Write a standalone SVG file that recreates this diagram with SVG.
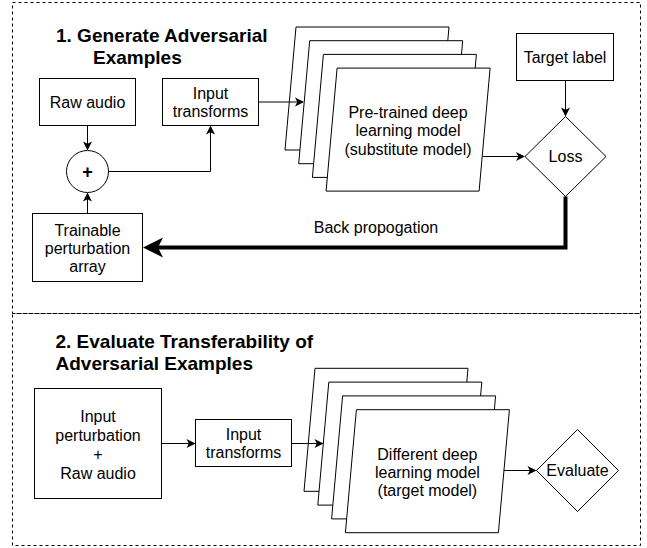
<svg xmlns="http://www.w3.org/2000/svg" xmlns:xlink="http://www.w3.org/1999/xlink" width="647" height="548" viewBox="0 0 647 548">
  <style>
    .frame { fill: none; stroke: #000; stroke-width: 1; stroke-dasharray: 3 3; }
    .box { fill: #fff; stroke: #000; stroke-width: 1; }
    .edge { fill: none; stroke: #000; stroke-width: 1; }
    .thick { fill: none; stroke: #000; stroke-width: 4; }
    text { font-family: "Liberation Sans", Arial, Helvetica, sans-serif; fill: #000; }
    .lbl { font-size: 16px; text-anchor: middle; }
    .title { font-size: 19px; font-weight: bold; }
    .plus { font-size: 18px; font-weight: bold; text-anchor: middle; }
  </style>
  <defs>
    <!-- one layer of a model stack: slanted card -->
    <polygon id="layer" points="11,0 164,0 153,123 0,123" class="box"/>
    <marker id="arrow" markerUnits="userSpaceOnUse" orient="auto" overflow="visible" refX="3" refY="0">
      <path d="M0,-4.5 L9,0 L0,4.5 L2.3,0 Z" fill="#000"/>
    </marker>
    <marker id="arrowBig" markerUnits="userSpaceOnUse" orient="auto" overflow="visible" refX="10" refY="0">
      <path d="M0,-10 L20,0 L0,10 L5,0 Z" fill="#000"/>
    </marker>
  </defs>

  <!-- section frames -->
  <g id="section-generate">
    <rect class="frame" x="12.5" y="2.5" width="628" height="311"/>
    <text class="title" x="56" y="42">1. Generate Adversarial</text>
    <text class="title" x="93" y="64">Examples</text>
  </g>
  <g id="section-evaluate">
    <rect class="frame" x="12.5" y="313.5" width="628" height="232"/>
    <text class="title" x="55.5" y="347.5">2. Evaluate Transferability of</text>
    <text class="title" x="55.5" y="369.5">Adversarial Examples</text>
  </g>

  <!-- section 1 nodes -->
  <g id="raw-audio">
    <rect class="box" x="39.5" y="78.5" width="96" height="47"/>
    <text class="lbl" x="87.5" y="107.5">Raw audio</text>
  </g>
  <g id="sum">
    <circle class="box" cx="87.5" cy="171.5" r="21"/>
    <text class="plus" x="87.5" y="178">+</text>
  </g>
  <g id="perturbation">
    <rect class="box" x="32.5" y="213.5" width="110" height="68"/>
    <text class="lbl" x="87.5" y="235.7">Trainable</text>
    <text class="lbl" x="87.5" y="254">perturbation</text>
    <text class="lbl" x="87.5" y="272.3">array</text>
  </g>
  <g id="input-transforms-1">
    <rect class="box" x="162.5" y="78.5" width="96" height="47"/>
    <text class="lbl" x="210.5" y="98.5">Input</text>
    <text class="lbl" x="210.5" y="116.9">transforms</text>
  </g>
  <g id="substitute-model">
    <use xlink:href="#layer" x="285" y="27"/>
    <use xlink:href="#layer" x="298.7" y="40.7"/>
    <use xlink:href="#layer" x="312.4" y="54.4"/>
    <use xlink:href="#layer" x="326.1" y="68.1"/>
    <text class="lbl" x="408" y="118">Pre-trained deep</text>
    <text class="lbl" x="408" y="136.4">learning model</text>
    <text class="lbl" x="408" y="154.8">(substitute model)</text>
  </g>
  <g id="target-label">
    <rect class="box" x="516.5" y="33.5" width="97" height="47"/>
    <text class="lbl" x="565" y="62.5">Target label</text>
  </g>
  <g id="loss">
    <polygon class="box" points="565.5,116.5 606,156.5 565.5,196.5 525,156.5"/>
    <text class="lbl" x="565.5" y="162">Loss</text>
  </g>

  <!-- section 2 nodes -->
  <g id="perturbed-audio">
    <rect class="box" x="34.5" y="388.5" width="127" height="110"/>
    <text class="lbl" x="98" y="421.7">Input</text>
    <text class="lbl" x="98" y="440.7">perturbation</text>
    <text class="lbl" x="98" y="459.7">+</text>
    <text class="lbl" x="98" y="478.7">Raw audio</text>
  </g>
  <g id="input-transforms-2">
    <rect class="box" x="195.5" y="419.5" width="96" height="47"/>
    <text class="lbl" x="243.5" y="439.5">Input</text>
    <text class="lbl" x="243.5" y="457.9">transforms</text>
  </g>
  <g id="target-model">
    <use xlink:href="#layer" x="304" y="368.3"/>
    <use xlink:href="#layer" x="317.8" y="382.1"/>
    <use xlink:href="#layer" x="331.6" y="395.9"/>
    <use xlink:href="#layer" x="345.4" y="409.7"/>
    <text class="lbl" x="427.4" y="459.6">Different deep</text>
    <text class="lbl" x="427.4" y="478">learning model</text>
    <text class="lbl" x="427.4" y="496.4">(target model)</text>
  </g>
  <g id="evaluate">
    <polygon class="box" points="577.5,429.5 618.5,470.5 577.5,511.5 536.5,470.5"/>
    <text class="lbl" x="577.5" y="476">Evaluate</text>
  </g>

  <!-- connectors -->
  <g id="connectors">
    <path class="edge" d="M87.5,125.5 V144.5" marker-end="url(#arrow)"/>
    <path class="edge" d="M87.5,213.5 V198.5" marker-end="url(#arrow)"/>
    <path class="edge" d="M108.5,171.5 H210.5 V131.5" marker-end="url(#arrow)"/>
    <path class="edge" d="M258.5,102 H298" marker-end="url(#arrow)"/>
    <path class="edge" d="M565.5,80.5 V110.5" marker-end="url(#arrow)"/>
    <path class="edge" d="M482.8,156.5 H519" marker-end="url(#arrow)"/>
    <path class="thick" d="M565.5,196.5 V247.5 H153" marker-end="url(#arrowBig)"/>
    <text class="lbl" x="376" y="232.5">Back propogation</text>
    <path class="edge" d="M161.5,443.5 H189.5" marker-end="url(#arrow)"/>
    <path class="edge" d="M291.5,443.5 H317.5" marker-end="url(#arrow)"/>
    <path class="edge" d="M503.8,470.5 H530.5" marker-end="url(#arrow)"/>
  </g>
</svg>
